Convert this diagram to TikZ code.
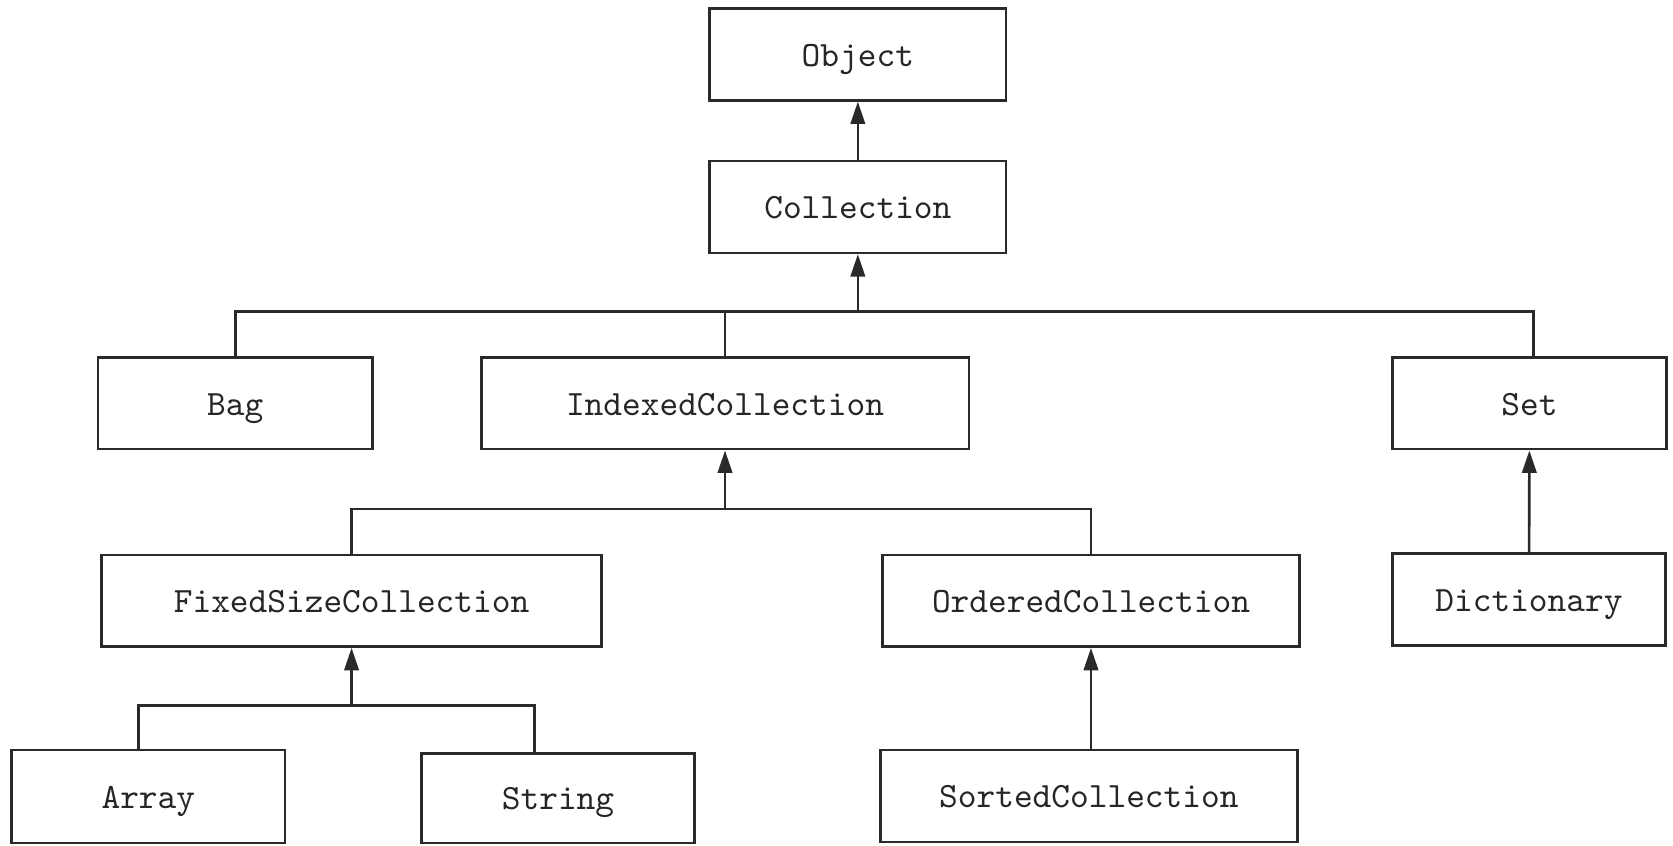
\documentclass[tikz,border=0pt]{standalone}
\usepackage{fontspec}
\usetikzlibrary{arrows.meta}
\definecolor{linegray}{HTML}{2A2A2A}
\def \busA{-2.92}
\def \busB{-4.77}
\def \busC{-6.61}
\begin{document}
\begin{tikzpicture}[
	cls/.style={draw=linegray, line width=0.7pt, minimum height=0.86cm, inner sep=0pt,
		text height=1.45ex, text depth=0pt,
		font=\ttfamily\fontsize{9.5}{11}\selectfont, text=black!85},
	link/.style={draw=linegray, line width=0.7pt},
	isa/.style={link, -{Triangle[length=2.1mm,width=1.35mm]}}]
\useasboundingbox (0,0) rectangle (15.68,-7.92);
% classes
\node[cls, minimum width=2.78cm] (object) at (8.04,-0.51) {Object};
\node[cls, minimum width=2.78cm] (collection) at (8.04,-1.94) {Collection};
\node[cls, minimum width=2.57cm] (bag) at (2.205,-3.78) {Bag};
\node[cls, minimum width=4.57cm] (indexed) at (6.795,-3.78) {IndexedCollection};
\node[cls, minimum width=2.57cm] (set) at (14.335,-3.78) {Set};
\node[cls, minimum width=4.69cm] (fixed) at (3.295,-5.63) {FixedSizeCollection};
\node[cls, minimum width=3.91cm] (ordered) at (10.225,-5.63) {OrderedCollection};
\node[cls, minimum width=2.56cm] (dictionary) at (14.33,-5.62) {Dictionary};
\node[cls, minimum width=2.56cm, minimum height=0.87cm] (array) at (1.39,-7.465) {Array};
\node[cls, minimum width=2.56cm, minimum height=0.84cm] (string) at (5.23,-7.48) {String};
\node[cls, minimum width=3.91cm] (sorted) at (10.205,-7.46) {SortedCollection};
% junctions
\coordinate (jA) at (collection.south |- 0,\busA);
\coordinate (jB) at (indexed.south |- 0,\busB);
\coordinate (jC) at (fixed.south |- 0,\busC);
% inheritance
\draw[isa] (collection) -- (object);
\draw[isa] (jA) -- (collection);
\draw[link] (bag.north) |- (jA);
\draw[link] (indexed.north) -- (indexed.north |- jA);
\draw[link] ([xshift=0.04cm]set.north) |- (jA);
\draw[isa] (jB) -- (indexed);
\draw[link] (fixed.north) |- (jB);
\draw[link] (ordered.north) |- (jB);
\draw[isa] (jC) -- (fixed);
\draw[link] ([xshift=-0.09cm]array.north) |- (jC);
\draw[link] ([xshift=-0.22cm]string.north) |- (jC);
\draw[isa] (dictionary) -- (set);
\draw[isa] (sorted.north -| ordered.south) -- (ordered);
\end{tikzpicture}
\end{document}
